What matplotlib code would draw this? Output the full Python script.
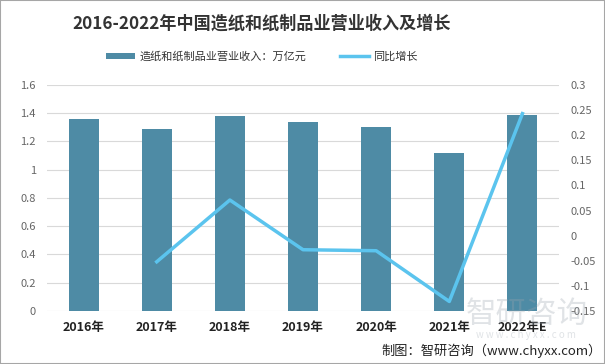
import matplotlib
matplotlib.use('Agg')
import matplotlib.pyplot as plt
from matplotlib.patches import Rectangle
import numpy as np

plt.rcParams['font.family'] = ['Noto Sans CJK SC', 'DejaVu Sans']

years = ['2016年', '2017年', '2018年', '2019年', '2020年', '2021年', '2022年E']
revenue = [1.36, 1.29, 1.38, 1.34, 1.30, 1.12, 1.39]
growth = [None, -0.052, 0.071, -0.028, -0.030, -0.131, 0.243]

bar_color = '#4E8BA5'
line_color = '#5BC4EE'

fig = plt.figure(figsize=(6.05, 3.64), dpi=100)
ax = fig.add_axes([0.0777, 0.1456, 0.8463, 0.6209])
x = np.arange(len(years))

ax.bar(x, revenue, width=0.41, color=bar_color, zorder=2, label='造纸和纸制品业营业收入：万亿元')
ax.set_xlim(-0.5, len(years) - 0.5)
ax.set_ylim(0, 1.6)
ax.set_yticks(np.arange(0, 1.61, 0.2))
ax.set_yticklabels(['0', '0.2', '0.4', '0.6', '0.8', '1', '1.2', '1.4', '1.6'])
ax.grid(axis='y', color='#D9D9D9', linewidth=0.8, zorder=0)
ax.set_xticks(x)
ax.set_xticklabels(years, fontsize=9, fontweight='bold', color='#222222')
for s in ax.spines.values():
    s.set_visible(False)
ax.tick_params(axis='both', length=0)
ax.tick_params(axis='y', labelsize=8, labelcolor='#666666', pad=8)
ax.tick_params(axis='x', pad=7)

ax2 = ax.twinx()
gx = [i for i, g in enumerate(growth) if g is not None]
gy = [g for g in growth if g is not None]
ax2.plot(gx, gy, color=line_color, linewidth=2.5, zorder=3, label='同比增长')
ax2.set_ylim(-0.15, 0.3)
ax2.set_yticks(np.arange(-0.15, 0.301, 0.05))
ax2.set_yticklabels(['-0.15', '-0.1', '-0.05', '0', '0.05', '0.1', '0.15', '0.2', '0.25', '0.3'])
for s in ax2.spines.values():
    s.set_visible(False)
ax2.tick_params(axis='y', length=0, labelsize=8, labelcolor='#666666', pad=8)

fig.text(0.432, 0.935, '2016-2022年中国造纸和纸制品业营业收入及增长', ha='center', va='center',
         fontsize=12.3, fontweight='bold', color='#333333')

h1, l1 = ax.get_legend_handles_labels()
h2, l2 = ax2.get_legend_handles_labels()
fig.legend(h1 + h2, l1 + l2, loc='center', bbox_to_anchor=(0.433, 0.845), ncol=2, frameon=False,
           fontsize=8, handlelength=2.6, handleheight=0.5, handletextpad=0.4, columnspacing=3,
           labelcolor='#333333')

# watermark
fig.text(0.87, 0.135, '智研咨询', ha='center', va='center', fontsize=22, color='#9AA4AE', alpha=0.3)
fig.text(0.87, 0.08, 'w w w . c h y x x . c o m', ha='center', va='center', fontsize=7,
         color='#9AA4AE', alpha=0.3)

fig.text(0.994, 0.035, '制图：智研咨询（www.chyxx.com）', ha='right', va='center', fontsize=9.5,
         color='#222222')

fig.patches.append(Rectangle((0, 0), 1, 1, transform=fig.transFigure, fill=False,
                             edgecolor='#A6A6A6', linewidth=1.5))

fig.savefig('out.png', dpi=100, facecolor='white')
